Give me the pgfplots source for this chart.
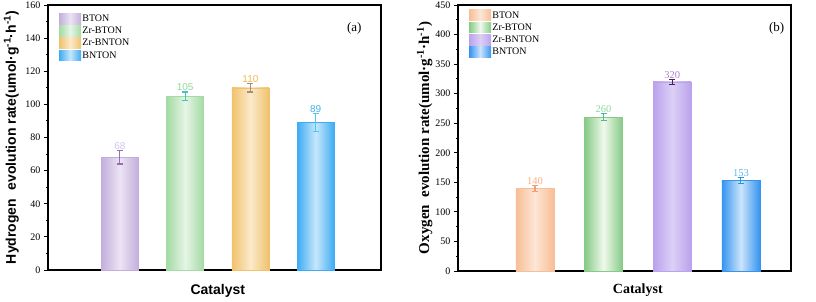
\documentclass[border=0pt]{standalone}
\usepackage{fontspec}
\setmainfont{Liberation Serif}
\setsansfont{Liberation Sans}
\usepackage{pgfplots}
\pgfplotsset{compat=1.18}
% panel a colours
\definecolor{aE1}{HTML}{C2AEDC}\definecolor{aC1}{HTML}{ECE4F4}
\definecolor{aE2}{HTML}{A4DAA4}\definecolor{aC2}{HTML}{E6F5E6}
\definecolor{aE3}{HTML}{F0C26C}\definecolor{aC3}{HTML}{FBEACB}
\definecolor{aE4}{HTML}{3EACF4}\definecolor{aC4}{HTML}{C6E7FB}
\definecolor{aR1}{HTML}{9C6CB0}\definecolor{aR2}{HTML}{40C4C8}
\definecolor{aR3}{HTML}{A48C7C}\definecolor{aR4}{HTML}{4CC8EC}
\definecolor{aL1}{HTML}{D2C4EA}\definecolor{aL2}{HTML}{96D696}
\definecolor{aL3}{HTML}{F0B848}\definecolor{aL4}{HTML}{40B0F0}
% panel b colours
\definecolor{bE1}{HTML}{F8BE96}\definecolor{bC1}{HTML}{FCE6D6}
\definecolor{bE2}{HTML}{86CA86}\definecolor{bC2}{HTML}{F0F9EC}
\definecolor{bE3}{HTML}{BAA2EC}\definecolor{bC3}{HTML}{DCD0F6}
\definecolor{bE4}{HTML}{3694F0}\definecolor{bC4}{HTML}{CBE4FB}
\definecolor{bR1}{HTML}{F0A070}\definecolor{bR2}{HTML}{50B8A0}
\definecolor{bR3}{HTML}{502050}\definecolor{bR4}{HTML}{2098E0}
\definecolor{bL1}{HTML}{F8B080}\definecolor{bL2}{HTML}{90D8A0}
\definecolor{bL3}{HTML}{B080D0}\definecolor{bL4}{HTML}{60B8F0}
\pgfplotsset{
  gbar/.style n args={3}{ybar, bar width=#3, bar shift=0pt, draw=#1, line width=0.4pt,
    top color=#1, bottom color=#1, middle color=#2, shading angle=90,
    legend image code/.code={\path[##1, draw=none] (0pt,-5.2pt) rectangle (22pt,5.6pt);}},
  ebar/.style={forget plot, draw=none, mark=none,
    error bars/.cd, y dir=both, y explicit,
    error bar style={draw=#1, line width=1.2pt},
    error mark options={draw=#1, line width=1.2pt, mark size=3pt, rotate=90}},
  vlab/.style n args={2}{forget plot, draw=none, mark=none, nodes near coords, point meta=explicit symbolic,
    every node near coord/.append style={anchor=south, inner sep=0.8pt, text=#1, font=#2}},
  common/.style={scale only axis, width=333pt, xtick=\empty, ytick pos=left, tick align=outside,
    major tick length=4pt, minor tick length=2pt, minor y tick num=1,
    tick style={black, line width=0.9pt}, axis line style={line width=1.2pt},
    /pgf/number format/assume math mode=true,
    yticklabel style={font=\fontsize{10}{12}\selectfont},
    legend style={anchor=north west, draw=none, fill=none, font=\fontsize{10}{12}\selectfont,
      row sep=1.4pt, nodes={inner sep=1.2pt}},
    legend cell align=left},
}
\begin{document}
\begin{tikzpicture}
\useasboundingbox (-48pt,-31pt) rectangle (768pt,270pt);
\begin{axis}[common, at={(0,0)}, anchor=south west, height=265pt,
  xmin=-0.1, xmax=5, ymin=0, ymax=160, ytick={0,20,...,160},
  ylabel={Hydrogen\hspace{0.6em}evolution rate(umol·g\textsuperscript{-1}·h\textsuperscript{-1})},
  ylabel style={at={(axis description cs:-0.11,0.5)}, anchor=center, font=\sffamily\bfseries\fontsize{14}{16}\selectfont},
  xlabel={Catalyst},
  xlabel style={at={(axis description cs:0.51,-0.079)}, anchor=center, font=\sffamily\bfseries\fontsize{14}{16}\selectfont},
  legend style={at={(axis description cs:0.024,0.977)}}]
\addplot[gbar={aE1}{aC1}{37pt}] coordinates {(1,68)};
\addlegendentry{BTON}
\addplot[gbar={aE2}{aC2}{37pt}] coordinates {(2,105)};
\addlegendentry{Zr-BTON}
\addplot[gbar={aE3}{aC3}{37pt}] coordinates {(3,110)};
\addlegendentry{Zr-BNTON}
\addplot[gbar={aE4}{aC4}{37pt}] coordinates {(4,89)};
\addlegendentry{BNTON}
\addplot[ebar=aR1] coordinates {(1,68) +- (0,4)};
\addplot[ebar=aR2] coordinates {(2,105) +- (0,2.5)};
\addplot[ebar=aR3] coordinates {(3,110) +- (0,2.5)};
\addplot[ebar=aR4] coordinates {(4,89) +- (0,5.5)};
\addplot[vlab={aL1}{\sffamily\fontsize{10}{12}\selectfont}] coordinates {(1,72) [68]};
\addplot[vlab={aL2}{\sffamily\fontsize{10}{12}\selectfont}] coordinates {(2,107.5) [105]};
\addplot[vlab={aL3}{\sffamily\fontsize{10}{12}\selectfont}] coordinates {(3,112.5) [110]};
\addplot[vlab={aL4}{\sffamily\fontsize{10}{12}\selectfont}] coordinates {(4,94.5) [89]};
\node[font=\fontsize{13}{15}\selectfont] at (axis cs:4.59,146) {(a)};
\end{axis}
\begin{axis}[common, at={(410pt,-1pt)}, anchor=south west, height=266pt,
  xmin=-0.12, xmax=4.73, ymin=0, ymax=450, ytick={0,50,...,450},
  ylabel={Oxygen\hspace{0.5em}evolution rate(umol·g\textsuperscript{-1}·h\textsuperscript{-1})},
  ylabel style={at={(axis description cs:-0.1,0.5)}, anchor=center, font=\bfseries\fontsize{15}{17}\selectfont},
  xlabel={Catalyst},
  xlabel style={at={(axis description cs:0.54,-0.072)}, anchor=center, font=\bfseries\fontsize{14}{16}\selectfont},
  legend style={at={(axis description cs:0.024,0.99)}}]
\addplot[gbar={bE1}{bC1}{38pt}] coordinates {(1,140)};
\addlegendentry{BTON}
\addplot[gbar={bE2}{bC2}{38pt}] coordinates {(2,260)};
\addlegendentry{Zr-BTON}
\addplot[gbar={bE3}{bC3}{38pt}] coordinates {(3,320)};
\addlegendentry{Zr-BNTON}
\addplot[gbar={bE4}{bC4}{38pt}] coordinates {(4,153)};
\addlegendentry{BNTON}
\addplot[ebar=bR1] coordinates {(1,140) +- (0,5)};
\addplot[ebar=bR2] coordinates {(2,260) +- (0,6)};
\addplot[ebar=bR3] coordinates {(3,320) +- (0,4)};
\addplot[ebar=bR4] coordinates {(4,153) +- (0,5)};
\addplot[vlab={bL1}{\fontsize{10.5}{12}\selectfont}] coordinates {(1,145) [140]};
\addplot[vlab={bL2}{\fontsize{10.5}{12}\selectfont}] coordinates {(2,266) [260]};
\addplot[vlab={bL3}{\fontsize{10.5}{12}\selectfont}] coordinates {(3,324) [320]};
\addplot[vlab={bL4}{\fontsize{10.5}{12}\selectfont}] coordinates {(4,158) [153]};
\node[font=\fontsize{13}{15}\selectfont] at (axis cs:4.52,411) {(b)};
\end{axis}
\end{tikzpicture}
\end{document}
